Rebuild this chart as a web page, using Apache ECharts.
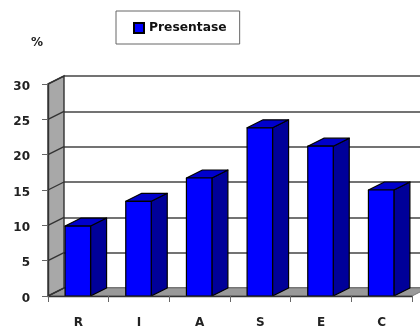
<!DOCTYPE html>
<html>
<head>
<meta charset="utf-8">
<script src="https://cdn.jsdelivr.net/npm/echarts@6/dist/echarts.min.js"></script>
<style>
html,body{margin:0;padding:0;background:#fff}
#chart{width:420px;height:333px}
</style>
</head>
<body>
<div id="chart"></div>
<script>
const categories = ['R', 'I', 'A', 'S', 'E', 'C'];
const presentase = [9.9, 13.4, 16.7, 23.8, 21.2, 15.0];
const yTicks = [0, 5, 10, 15, 20, 25, 30];
const seriesName = 'Presentase';

// Projection of the depth axis, in pixels
const DEPTH_X = 16;
const DEPTH_Y = -8;
const BAR_RATIO = 0.42;
const FONT = '"DejaVu Sans", Verdana, sans-serif';

const chart = echarts.init(document.getElementById('chart'), null, { renderer: 'canvas' });

function back(p) { return [p[0] + DEPTH_X, p[1] + DEPTH_Y]; }

// Left wall, floor and the depth strokes at each y tick
function renderFrame(params, api) {
  if (params.dataIndex !== 0) return null;
  const bottom = api.coord([0, 0]);
  const cs = params.coordSys;
  const left = cs.x;
  const right = cs.x + cs.width;
  const yOf = v => api.coord([0, v])[1];
  const wallTop = [left, yOf(30)];
  const wallBottom = [left, yOf(0)];
  const floorRight = [right, bottom[1]];
  const children = [
    { type: 'polygon', shape: { points: [wallBottom, back(wallBottom), back(floorRight), floorRight] },
      style: { fill: '#999999', stroke: '#777', lineWidth: 1 } },
    { type: 'polygon', shape: { points: [wallTop, back(wallTop), back(wallBottom), wallBottom] },
      style: { fill: '#a8a8a8', stroke: '#333', lineWidth: 1.4 } }
  ];
  yTicks.forEach(t => {
    const a = [left, yOf(t)];
    const b = back(a);
    children.push({ type: 'line', shape: { x1: a[0], y1: a[1], x2: b[0], y2: b[1] },
      style: { stroke: '#333', lineWidth: 1.3 } });
  });
  return { type: 'group', children };
}

// One extruded bar: side, top, then front face
function renderBar(params, api) {
  const cat = api.value(0);
  const val = api.value(1);
  const band = api.size([1, 0])[0];
  const w = band * BAR_RATIO;
  const c = api.coord([cat, val]);
  const base = api.coord([cat, 0]);
  const x0 = c[0] - w / 2 - 0.5;
  const x1 = x0 + w;
  const yT = c[1];
  const yB = base[1];
  const stroke = { stroke: '#000', lineWidth: 1.2, lineJoin: 'round' };
  return { type: 'group', children: [
    { type: 'polygon', shape: { points: [[x1, yT], back([x1, yT]), back([x1, yB]), [x1, yB]] },
      style: Object.assign({ fill: '#000099' }, stroke) },
    { type: 'polygon', shape: { points: [[x0, yT], back([x0, yT]), back([x1, yT]), [x1, yT]] },
      style: Object.assign({ fill: '#0000cc' }, stroke) },
    { type: 'rect', shape: { x: x0, y: yT, width: w, height: yB - yT },
      style: Object.assign({ fill: '#0000ff' }, stroke) }
  ] };
}

chart.setOption({
  animation: false,
  backgroundColor: '#fff',
  legend: {
    data: [{ name: seriesName, icon: 'rect' }],
    left: 116,
    top: 11,
    padding: [11, 13, 10, 17],
    itemWidth: 10,
    itemHeight: 10,
    borderColor: '#666',
    borderWidth: 1,
    backgroundColor: '#fff',
    textStyle: { fontFamily: FONT, fontSize: 12.3, fontWeight: 'bold', color: '#111' }
  },
  grid: [
    { left: 48, top: 84, width: 364, height: 212 },
    { left: 64, top: 76, width: 364, height: 212 }
  ],
  xAxis: [
    { type: 'category', gridIndex: 0, data: categories, z: 5,
      axisLine: { lineStyle: { color: '#333', width: 1.3 } },
      axisTick: { show: true, alignWithLabel: false, length: 6, lineStyle: { color: '#666', width: 1 } },
      axisLabel: { margin: 21, fontFamily: FONT, fontSize: 12, fontWeight: 'bold', color: '#222' } },
    { type: 'category', gridIndex: 1, data: categories, show: false }
  ],
  yAxis: [
    { type: 'value', gridIndex: 0, min: 0, max: 30, interval: 5, z: 5,
      name: '%', nameLocation: 'end', nameGap: 35,
      nameRotate: 0,
      nameTextStyle: { fontFamily: FONT, fontSize: 12, fontWeight: 'bold', color: '#222', align: 'right', padding: [0, 5, 0, 0] },
      axisLine: { show: true, lineStyle: { color: '#333', width: 1.4 } },
      axisTick: { show: true, length: 6, lineStyle: { color: '#666', width: 1 } },
      axisLabel: { margin: 18, verticalAlign: 'top', lineHeight: 5, fontFamily: FONT, fontSize: 12, fontWeight: 'bold', color: '#222',
        formatter: v => yTicks.includes(v) ? String(v) : '' },
      splitLine: { show: false } },
    { type: 'value', gridIndex: 1, min: 0, max: 30, interval: 5,
      axisLine: { show: false }, axisTick: { show: false }, axisLabel: { show: false },
      splitLine: { show: true, lineStyle: { color: '#444', width: 1.5 } } }
  ],
  series: [
    { type: 'custom', name: 'frame', xAxisIndex: 0, yAxisIndex: 0, z: 1, silent: true,
      clip: false, renderItem: renderFrame, data: [[0, 0]], encode: { x: 0, y: 1 } },
    { type: 'custom', name: seriesName, xAxisIndex: 0, yAxisIndex: 0, z: 3, clip: false,
      itemStyle: { color: '#0000ff', borderColor: '#000', borderWidth: 1 },
      renderItem: renderBar,
      data: presentase.map((v, i) => [i, v]), encode: { x: 0, y: 1 } }
  ]
});
</script>
</body>
</html>
